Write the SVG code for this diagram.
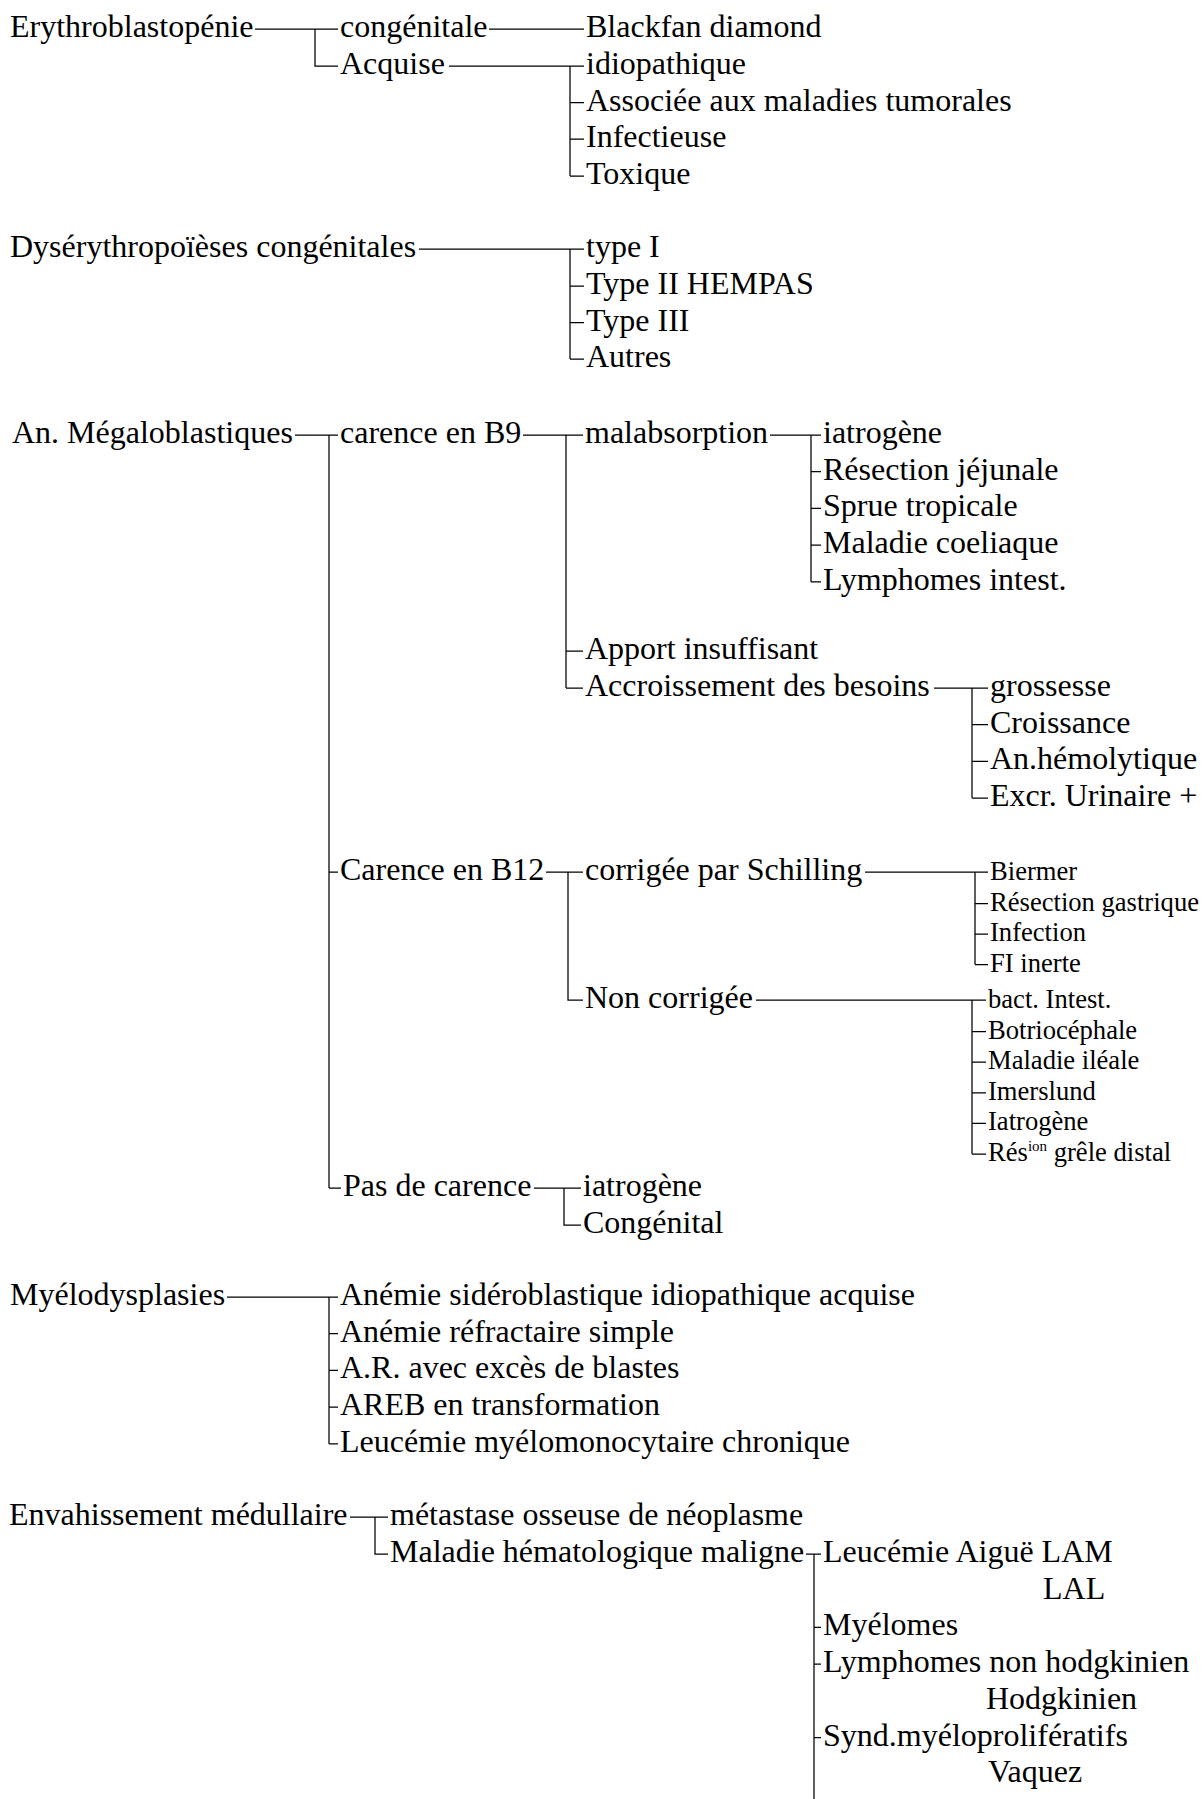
<svg xmlns="http://www.w3.org/2000/svg" width="1203" height="1799" viewBox="0 0 1203 1799">
<style>
text{font-family:"Liberation Serif","Times New Roman",serif;font-size:32px;fill:#000}
text.s{font-size:26.6px}
.c path{stroke:#000;stroke-width:1.25;fill:none}
</style>
<rect width="1203" height="1799" fill="#fff"/>
<g class="c" id="connectors">
<path d="M255 29H338M315 29V66H338M489 29H584M449 66H584M570 66V176M570 102.5H584M570 139H584M570 176H584"/>
<path d="M419 249H584M570 249V359M570 286H584M570 322.5H584M570 359H584"/>
<path d="M295 435H338M329 435V1188M329 872H338M329 1188H341"/>
<path d="M523 435H583M566 435V688M566 651H583M566 688H583"/>
<path d="M770 435H821M811 435V582M811 471.7H821M811 508.4H821M811 545.1H821M811 581.8H821"/>
<path d="M934 688H988M972 688V798M972 724.7H988M972 761.4H988M972 798H988"/>
<path d="M546 872H583M568 872V1000H583"/>
<path d="M865 872H988M975 872V964.5M975 903.5H988M975 934H988M975 964.5H988"/>
<path d="M756 1000H986M972 1000V1154M972 1031.6H986M972 1062.2H986M972 1092.8H986M972 1123.4H986M972 1154H986"/>
<path d="M534 1188H581M564 1188V1225H581"/>
<path d="M227 1297H338M329 1297V1444M329 1333.7H338M329 1370.4H338M329 1407.1H338M329 1443.8H338"/>
<path d="M350 1517H388M375 1517V1554H388"/>
<path d="M806 1554H821M814 1554V1799M814 1627.4H821M814 1664.1H821M814 1737.5H821"/>
</g>
<g id="n-erythro"><text x="10" y="37">Erythroblastopénie</text></g>
<g id="n-congenitale"><text x="340" y="37">congénitale</text></g>
<g id="n-blackfan"><text x="586" y="37">Blackfan diamond</text></g>
<g id="n-acquise"><text x="340" y="74">Acquise</text></g>
<g id="n-idiopathique"><text x="586" y="74">idiopathique</text></g>
<g id="n-associee"><text x="586" y="110.5">Associée aux maladies tumorales</text></g>
<g id="n-infectieuse"><text x="586" y="147">Infectieuse</text></g>
<g id="n-toxique"><text x="586" y="184">Toxique</text></g>

<g id="n-dys"><text x="10" y="257">Dysérythropoïèses congénitales</text></g>
<g id="n-type1"><text x="586" y="257">type I</text></g>
<g id="n-type2"><text x="586" y="294">Type II HEMPAS</text></g>
<g id="n-type3"><text x="586" y="330.5">Type III</text></g>
<g id="n-autres"><text x="586" y="367">Autres</text></g>

<g id="n-megalo"><text x="12" y="443">An. Mégaloblastiques</text></g>
<g id="n-b9"><text x="340" y="443">carence en B9</text></g>
<g id="n-malabs"><text x="585" y="443">malabsorption</text></g>
<g id="n-iatro1"><text x="823" y="443">iatrogène</text></g>
<g id="n-resjej"><text x="823" y="479.7">Résection jéjunale</text></g>
<g id="n-sprue"><text x="823" y="516.4">Sprue tropicale</text></g>
<g id="n-coeliaque"><text x="823" y="553.1">Maladie coeliaque</text></g>
<g id="n-lymphint"><text x="823" y="589.8">Lymphomes intest.</text></g>
<g id="n-apport"><text x="585" y="659">Apport insuffisant</text></g>
<g id="n-accroiss"><text x="585" y="696">Accroissement des besoins</text></g>
<g id="n-grossesse"><text x="990" y="696">grossesse</text></g>
<g id="n-croissance"><text x="990" y="732.7">Croissance</text></g>
<g id="n-anhemo"><text x="990" y="769.4">An.hémolytique</text></g>
<g id="n-excr"><text x="990" y="806.1">Excr. Urinaire +</text></g>
<g id="n-b12"><text x="340" y="880">Carence en B12</text></g>
<g id="n-schilling"><text x="585" y="880">corrigée par Schilling</text></g>
<g id="n-biermer"><text class="s" x="990" y="880">Biermer</text></g>
<g id="n-resgast"><text class="s" x="990" y="910.5">Résection gastrique</text></g>
<g id="n-infection"><text class="s" x="990" y="941">Infection</text></g>
<g id="n-fi"><text class="s" x="990" y="971.5">FI inerte</text></g>
<g id="n-noncorr"><text x="585" y="1008">Non corrigée</text></g>
<g id="n-bact"><text class="s" x="988" y="1008">bact. Intest.</text></g>
<g id="n-botrio"><text class="s" x="988" y="1038.6">Botriocéphale</text></g>
<g id="n-ileale"><text class="s" x="988" y="1069.2">Maladie iléale</text></g>
<g id="n-imerslund"><text class="s" x="988" y="1099.8">Imerslund</text></g>
<g id="n-iatro2"><text class="s" x="988" y="1130.4">Iatrogène</text></g>
<g id="n-resgrele"><text class="s" x="988" y="1161">Rés<tspan font-size="15" dy="-10">ion</tspan><tspan dy="10"> grêle distal</tspan></text></g>
<g id="n-pasdecar"><text x="343" y="1196">Pas de carence</text></g>
<g id="n-iatro3"><text x="583" y="1196">iatrogène</text></g>
<g id="n-congenital"><text x="583" y="1233">Congénital</text></g>

<g id="n-myelodys"><text x="10" y="1305">Myélodysplasies</text></g>
<g id="n-asia"><text x="340" y="1305">Anémie sidéroblastique idiopathique acquise</text></g>
<g id="n-ars"><text x="340" y="1341.7">Anémie réfractaire simple</text></g>
<g id="n-areb"><text x="340" y="1378.4">A.R. avec excès de blastes</text></g>
<g id="n-arebt"><text x="340" y="1415.1">AREB en transformation</text></g>
<g id="n-lmmc"><text x="340" y="1451.8">Leucémie myélomonocytaire chronique</text></g>

<g id="n-envah"><text x="9" y="1525">Envahissement médullaire</text></g>
<g id="n-metastase"><text x="390" y="1525">métastase osseuse de néoplasme</text></g>
<g id="n-malhem"><text x="390" y="1562">Maladie hématologique maligne</text></g>
<g id="n-leucemie"><text x="823" y="1562">Leucémie Aiguë LAM</text><text x="1043" y="1598.7">LAL</text></g>
<g id="n-myelomes"><text x="823" y="1635.4">Myélomes</text></g>
<g id="n-lymphomes"><text x="823" y="1672.1">Lymphomes non hodgkinien</text><text x="986" y="1708.8">Hodgkinien</text></g>
<g id="n-synd"><text x="823" y="1745.5">Synd.myéloprolifératifs</text><text x="988" y="1782.2">Vaquez</text></g>
</svg>
